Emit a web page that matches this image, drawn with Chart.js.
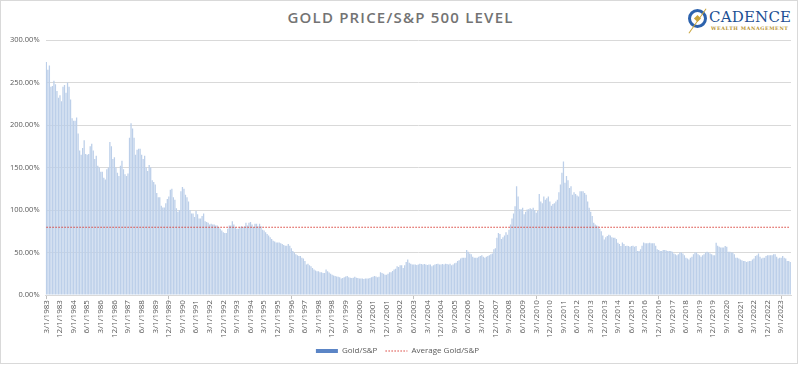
<!doctype html>
<html>
  <head>
    <meta charset="utf-8" />
    <title>Gold Price/S&amp;P 500 Level</title>
    <script src="https://cdn.jsdelivr.net/npm/chart.js@4.4.1/dist/chart.umd.min.js"></script>
    <style>
      body { margin: 0; background: #fff; }
      #frame { position: absolute; left: 0; top: 0; width: 796px; height: 362px; border: 1px solid #d9d9d9; }
      #title { position: absolute; left: 0; top: 7px; width: 801px; text-align: center;
        font: 600 15px "Open Sans", sans-serif; letter-spacing: 1.2px; color: #737373; }
      #emblem { position: absolute; left: 688px; top: 9px; width: 13px; height: 13px;
        border: 3px solid #2c62ad; border-radius: 50%; }
      #star { position: absolute; left: 4px; top: 4px; width: 5px; height: 5px; background: #c9a43c; transform: rotate(45deg); }
      #slash { position: absolute; left: 6px; top: -6px; width: 1px; height: 30px; background: #c9a43c; transform: rotate(35deg); }
      #brand { position: absolute; left: 709px; top: 8px; font: 15px "DejaVu Serif", serif; color: #1d4f93; letter-spacing: 0.2px; }
      #sub { position: absolute; left: 711px; top: 25px; font: bold 4.8px "DejaVu Serif", serif; color: #b8932f; letter-spacing: 0.6px; }
      canvas { position: absolute; left: 0; top: 0; }
    </style>
    <script>
      document.addEventListener("DOMContentLoaded", iniciar);

      // monthly Gold/S&P ratio in %, 3/1983 .. 3/2024
      const ratio1980s = [
        274, 265, 270, 245, 246, 252, 248, 240, 232, 235,
        228, 245, 247, 238, 250, 245, 230, 208, 205, 205, 209, 190,
        170, 165, 173, 182, 166, 165, 166, 175, 178, 170, 160, 164,
        152, 150, 145, 145, 138, 136, 148, 150, 180, 175, 160, 162,
        150, 144, 140, 152, 158, 148, 142, 140, 143, 185, 202, 196,
        185, 165, 171, 172, 172, 165, 160, 164, 150, 146, 153, 150,
        135, 133, 130, 120, 115, 115, 105, 103, 103, 108, 113, 116,
      ];
      const ratio1990s = [
        124, 125, 115, 112, 102, 98, 100, 122, 127, 125, 118, 115,
        110, 100, 96, 96, 92, 99, 95, 90, 90, 93, 96, 87,
        86, 85, 83, 84, 83, 83, 82, 82, 80, 78, 76, 74,
        73, 73, 78, 82, 82, 87, 83, 80, 78, 78, 80, 81,
        80, 81, 85, 82, 85, 86, 83, 80, 84, 84, 81, 84,
        81, 77, 76, 74, 72, 70, 68, 66, 64, 63, 62, 62,
        62, 61, 60, 59, 58, 58, 60, 58, 55, 52, 50, 48,
        47, 46, 46, 44, 43, 40, 36, 37, 35, 34, 32, 30,
        29, 28, 28, 27, 27, 26, 26, 30, 28, 26.5, 25, 24,
        23, 22.5, 22, 21.5, 21, 19.5, 20, 21, 22, 22.6, 21, 20.5,
      ];
      const ratio2000s = [
        20, 20.5, 21.5, 20.5, 20, 19.5, 19.5, 19.5, 19, 19.5, 19.5, 19.5,
        20, 21, 21.5, 22.6, 22, 21, 21.5, 27, 26, 25, 24, 24,
        25, 27, 27, 28.5, 30, 31, 34, 33, 35, 35, 32, 35,
        39, 42, 38, 37, 36, 36, 36, 35.5, 36, 37, 36.5, 36,
        36.5, 36, 35.5, 36, 36, 34, 35, 36, 36.5, 37, 36, 36,
        36.5, 36, 37, 36.5, 36, 37, 35, 36, 37.5, 38, 40, 41,
        43, 44, 44, 44, 53, 51, 49, 48, 45, 44, 44, 44,
        45, 46, 47, 45, 44, 45, 46, 47, 48, 49, 54, 55,
        67.5, 73, 72, 66, 68, 70, 74, 71, 77, 83, 90, 96,
        104.5, 128, 116, 101, 101, 102.6, 95, 98, 100.6, 101, 102, 101,
      ];
      const ratio2010s = [
        102.6, 100, 97, 99, 119, 110, 108, 116, 112, 114, 116, 110,
        105, 107, 108, 110, 112, 121, 130, 144, 157, 132, 140, 135,
        126, 128, 118, 121, 119, 117, 116, 122, 122, 122, 120, 118,
        110, 102.6, 98, 93, 85, 83, 82, 81, 78, 75, 70, 65.5,
        68, 69.4, 71, 70, 68, 67.5, 67.5, 66, 61.6, 60, 57.7, 62,
        60, 57.7, 58, 57.7, 57, 57.7, 58, 57, 57.7, 52, 52, 54,
        58, 62, 61, 61, 61, 61.6, 61, 61, 61, 58, 54, 53,
        52, 52, 53, 53, 52.5, 52, 52, 52, 51, 49, 48, 47,
        48, 50, 50, 49, 47, 44, 43, 42, 44, 45, 48, 50,
        50, 48, 47, 45, 47, 48, 50, 51, 50, 49, 48, 47,
      ];
      const ratio2020s = [
        47, 61.6, 58, 57, 56, 56, 56, 57.7, 57, 51, 51, 50,
        50, 48, 44, 44, 43, 42, 41, 40, 40, 39, 39.5, 40,
        40, 42, 43, 46, 47, 49, 45, 43, 44, 44, 46, 47,
        47, 47, 47, 48, 48, 45, 43, 44, 44, 46, 44, 43,
        40, 40, 39,
      ];
      const averageRatio = 79.8;
      const yTicks = [0, 50, 100, 150, 200, 250, 300];

      const goldSP = [...ratio1980s, ...ratio1990s, ...ratio2000s, ...ratio2010s, ...ratio2020s];
      const meses = goldSP.map((v, i) => {
        const m = ((2 + i) % 12) + 1;
        const y = 1983 + Math.floor((2 + i) / 12);
        return m + "/1/" + y;
      });

      function iniciar() {
        const canvas = document.getElementById("chart");
        new Chart(canvas, {
          data: {
            labels: meses,
            datasets: [
              {
                type: "bar",
                label: "Gold/S&P",
                data: goldSP,
                backgroundColor: "#bccfe9",
                barPercentage: 0.85,
                categoryPercentage: 1,
                order: 2,
              },
              {
                type: "line",
                label: "Average Gold/S&P",
                data: goldSP.map(() => averageRatio),
                borderColor: "#d9413a",
                borderWidth: 1.2,
                borderDash: [1.5, 1.5],
                pointRadius: 0,
                order: 1,
              },
            ],
          },
          options: {
            responsive: false,
            animation: false,
            layout: { padding: { top: 40, right: 10, left: 4, bottom: 1 } },
            plugins: {
              tooltip: { enabled: false },
              legend: {
                position: "bottom",
                labels: {
                  font: { family: "Open Sans", size: 8 },
                  color: "#595959",
                  usePointStyle: true,
                  pointStyleWidth: 22,
                  boxHeight: 4,
                  padding: 8,
                  generateLabels: () => [
                    { text: "Gold/S&P", pointStyle: "rect", fillStyle: "#5b85c6", strokeStyle: "#5b85c6", lineWidth: 0, fontColor: "#595959" },
                    { text: "Average Gold/S&P", pointStyle: "line", fillStyle: "#d9413a", strokeStyle: "#d9413a", lineWidth: 1.2, lineDash: [1.5, 1.5], fontColor: "#595959" },
                  ],
                },
              },
            },
            scales: {
              x: {
                grid: {
                  offset: false,
                  drawOnChartArea: false,
                  tickLength: 4,
                  color: (c) => (c.index % 9 === 0 ? "#bfbfbf" : "transparent"),
                },
                border: { color: "#d9d9d9" },
                ticks: {
                  autoSkip: false,
                  minRotation: 90,
                  maxRotation: 90,
                  padding: 1,
                  font: { family: "Open Sans", size: 8 },
                  color: "#595959",
                  callback: (v, i) => (i % 9 === 0 ? meses[i] : null),
                },
              },
              y: {
                min: 0,
                max: 300,
                afterBuildTicks: (s) => { s.ticks = yTicks.map((v) => ({ value: v })); },
                grid: { color: "#d9d9d9", drawTicks: false },
                border: { display: false },
                ticks: {
                  padding: 6,
                  font: { family: "Open Sans", size: 7.5 },
                  color: "#595959",
                  callback: (v) => v.toFixed(2) + "%",
                },
              },
            },
          },
        });
      }
    </script>
  </head>
  <body>
    <div id="frame"></div>
    <div id="title">GOLD PRICE/S&amp;P 500 LEVEL</div>
    <div id="emblem"><div id="slash"></div><div id="star"></div></div>
    <div id="brand">CADENCE</div>
    <div id="sub">WEALTH MANAGEMENT</div>
    <canvas id="chart" width="801" height="366"></canvas>
  </body>
</html>
